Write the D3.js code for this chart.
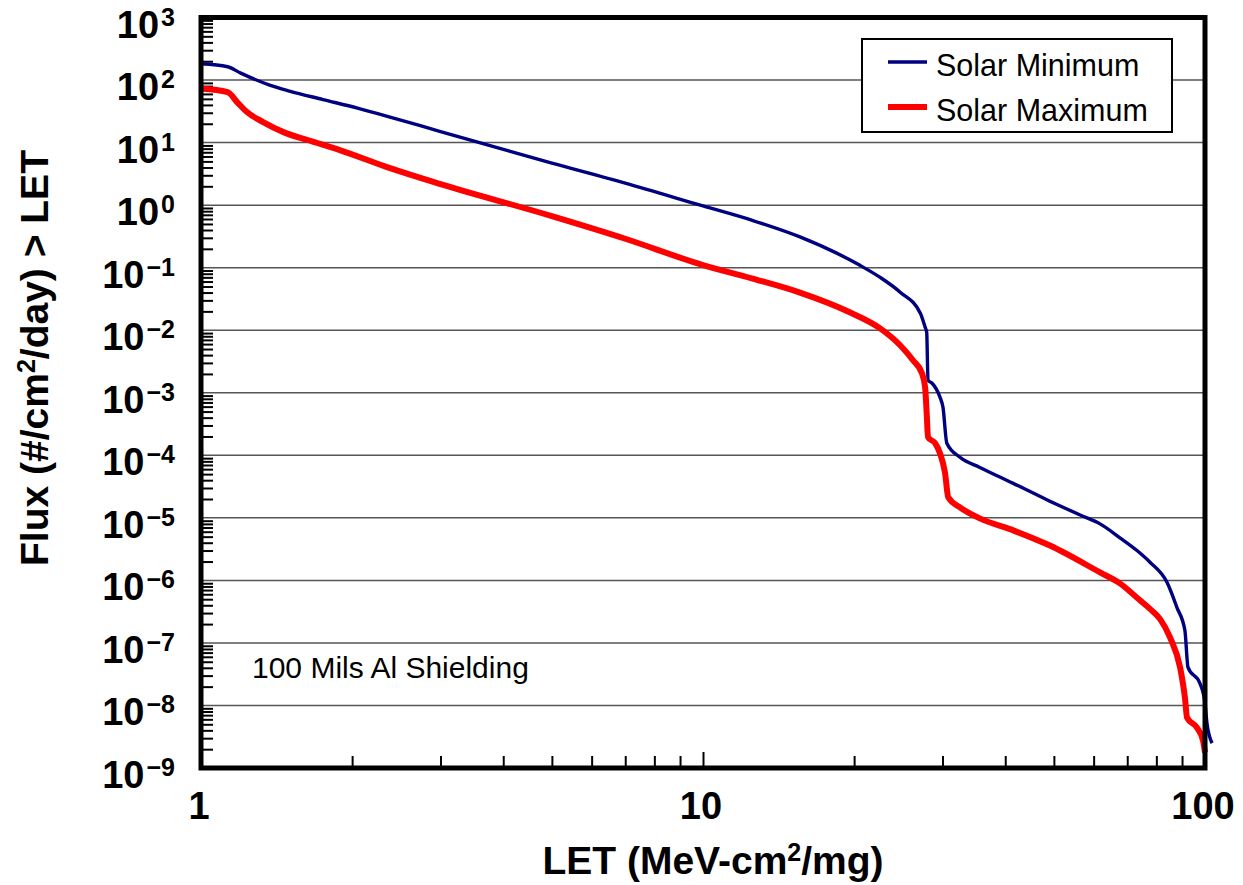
<!DOCTYPE html>
<html lang="en">
<head>
<meta charset="utf-8">
<title>LET spectrum</title>
<script type="text/javascript" src="https://cdn.jsdelivr.net/npm/d3@7/dist/d3.min.js"></script>
<style type="text/css">
  html, body { margin: 0; padding: 0; background: white; overflow: hidden; }
  text { font-family: "Liberation Sans", Arial, Helvetica, sans-serif; }
  .tick-label { font-weight: bold; fill: black; }
  .axis-title { font-weight: bold; font-size: 39px; fill: black; }
</style>
</head>
<body>
<div id="chart"></div>
<script type="text/javascript">

// LET values (MeV-cm2/mg) and integral flux
var letSolarMin = [1.0, 1.13, 1.2, 1.37, 1.5, 1.75, 2.05, 2.38, 3, 5, 7, 10, 12.5, 15.6, 20.5, 22.5, 24.7,
  27.1, 27.7, 27.9, 28.07, 28.6, 29.65, 30.06, 30.6, 32.5, 35.6, 41.5, 48.4, 56.4, 61.8, 67.7, 73.2, 77.7, 84.0,
  87.9, 91.2, 92.5, 97.7, 100, 100.9, 103.3];
var fluxSolarMin = [182, 163, 129, 83, 66.7, 48.8, 35.6, 25.6, 15, 4.7, 2.25, 0.97, 0.575, 0.31, 0.11, 0.0705, 0.0406,
  0.0187, 0.0112, 0.0093, 1.58e-3, 1.42e-3, 8.5e-4, 5.9e-4, 1.56e-4, 9.3e-5, 6.4e-5, 3.56e-5, 1.95e-5, 1.11e-5, 8.0e-6, 4.8e-6, 3.0e-6, 1.95e-6, 9.3e-7,
  3.7e-7, 1.58e-7, 4.06e-8, 2.25e-8, 1.08e-8, 5.2e-9, 2.5e-9];

var letSolarMax = [1.0, 1.13, 1.18, 1.235, 1.33, 1.46, 1.63, 1.89, 2.38, 3, 5, 7, 10, 12.5, 15.6, 19.6, 22.5,
  24.7, 26.2, 27.3, 27.7, 27.9, 28.07, 29.0, 29.65, 30.35, 30.8, 32.5, 35.6, 41.5, 49.1, 61.8, 67.7,
  74.2, 77.7, 81.4, 85.2, 89.2, 91.2, 92.1, 96.4, 99.1, 100];
var fluxSolarMax = [73, 64, 44.5, 30.8, 21.3, 14.7, 11.0, 7.6, 3.9, 2.17, 0.667, 0.29, 0.11, 0.0676, 0.04, 0.0194, 0.0108,
  5.75e-3, 3.3e-3, 2.05e-3, 1.22e-3, 4.7e-4, 1.94e-4, 1.56e-4, 1.08e-4, 5.2e-5, 2.13e-5, 1.47e-5, 9.8e-6, 6.3e-6, 3.6e-6, 1.34e-6, 8.95e-7,
  4.8e-7, 3.5e-7, 2.4e-7, 1.22e-7, 4.06e-8, 1.34e-8, 6.4e-9, 4.4e-9, 2.75e-9, 1.77e-9];

var seriesNames = ["Solar Minimum", "Solar Maximum"];
var seriesColors = ["#000080", "#ff0000"];

var xTickValues = [1, 10, 100];
var xTickLabels = ["1", "10", "100"];
var yTickExponents = [3, 2, 1, 0, -1, -2, -3, -4, -5, -6, -7, -8, -9];

var xTitle = "LET (MeV-cm";
var yTitle = "Flux (#/cm";
var noteText = "100 Mils Al Shielding";

// size of the picture and of the plot box
var w = 1243;
var h = 885;
var plotL = 201, plotR = 1205, plotT = 17.5, plotB = 768;

var xScale = d3.scaleLog()
              .domain([1, 100])
              .range([plotL, plotR]);

var yScale = d3.scaleLog()
              .domain([1e-9, 1e3])
              .range([plotB, plotT]);

var svg = d3.select("#chart")
            .append("svg")
            .attr("width", w)
            .attr("height", h);

svg.append("rect")
   .attr("width", w)
   .attr("height", h)
   .attr("fill", "white");

// horizontal grid at each decade
var gridValues = yTickExponents.filter(function(e){ return e < 3 && e > -9; })
                               .map(function(e){ return Math.pow(10, e); });
svg.selectAll("line.grid")
   .data(gridValues)
   .enter()
   .append("line")
   .attr("class", "grid")
   .attr("x1", plotL)
   .attr("x2", plotR)
   .attr("y1", function(d){ return yScale(d); })
   .attr("y2", function(d){ return yScale(d); })
   .attr("stroke", "#555")
   .attr("stroke-width", 1.5);

// minor ticks, pointing into the plot
var yMinor = [];
yTickExponents.forEach(function(e){
  if (e == 3) return;
  for (var k = 2; k <= 9; k++) yMinor.push(k * Math.pow(10, e));
});
var yAxis = d3.axisLeft(yScale)
              .tickValues(yMinor)
              .tickSize(-12)
              .tickFormat("");
svg.append("g")
   .attr("transform", "translate(" + plotL + ",0)")
   .call(yAxis)
   .call(function(g){
     g.select(".domain").remove();
     g.selectAll(".tick line").attr("stroke-width", 2);
   });

var xMinor = [];
[0, 1].forEach(function(e){
  for (var k = 2; k <= 9; k++) xMinor.push(k * Math.pow(10, e));
});
xMinor.push(10);
var xAxis = d3.axisBottom(xScale)
              .tickValues(xMinor)
              .tickSize(-12)
              .tickFormat("");
svg.append("g")
   .attr("transform", "translate(0," + plotB + ")")
   .call(xAxis)
   .call(function(g){
     g.select(".domain").remove();
     g.selectAll(".tick line")
      .attr("stroke-width", 2)
      .attr("y2", function(d){ return d == 10 ? -16 : -12; });
   });

// the two curves
var line = d3.line()
             .curve(d3.curveMonotoneX)
             .x(function(d){ return xScale(d[0]); })
             .y(function(d){ return yScale(d[1]); });

var minData = d3.zip(letSolarMin, fluxSolarMin);
var maxData = d3.zip(letSolarMax, fluxSolarMax);

svg.append("path")
   .datum(minData)
   .attr("d", line)
   .attr("fill", "none")
   .attr("stroke", seriesColors[0])
   .attr("stroke-width", 3.4)
   .attr("stroke-linejoin", "round");

svg.append("path")
   .datum(maxData)
   .attr("d", line)
   .attr("fill", "none")
   .attr("stroke", seriesColors[1])
   .attr("stroke-width", 6)
   .attr("stroke-linejoin", "round");

// frame on top
svg.append("rect")
   .attr("x", plotL)
   .attr("y", plotT)
   .attr("width", plotR - plotL)
   .attr("height", plotB - plotT)
   .attr("fill", "none")
   .attr("stroke", "black")
   .attr("stroke-width", 5);

// y tick labels: 10 with superscript exponent
var yLabels = svg.selectAll("text.ylab")
   .data(yTickExponents)
   .enter()
   .append("text")
   .attr("class", "tick-label ylab")
   .attr("x", 175)
   .attr("y", function(d){ return yScale(Math.pow(10, d)) + 20; })
   .attr("text-anchor", "end")
   .style("font-size", "38px");
yLabels.append("tspan").text("10");
yLabels.append("tspan")
   .attr("dx", 2)
   .attr("dy", -12)
   .style("font-size", "25px")
   .text(function(d){ return d < 0 ? "\u2212" + (-d) : "" + d; });

// x tick labels
svg.selectAll("text.xlab")
   .data(xTickValues)
   .enter()
   .append("text")
   .attr("class", "tick-label xlab")
   .attr("x", function(d){ return xScale(d) - 2; })
   .attr("y", 819)
   .attr("text-anchor", "middle")
   .style("font-size", "38px")
   .text(function(d, i){ return xTickLabels[i]; });

// axis titles
var xt = svg.append("text")
   .attr("class", "axis-title")
   .attr("x", 713)
   .attr("y", 874)
   .attr("text-anchor", "middle");
xt.append("tspan").text(xTitle);
xt.append("tspan").attr("dy", -13).style("font-size", "25px").text("2");
xt.append("tspan").attr("dy", 13).text("/mg)");

var yt = svg.append("text")
   .attr("class", "axis-title")
   .attr("transform", "translate(48,358) rotate(-90)")
   .attr("text-anchor", "middle");
yt.append("tspan").text(yTitle);
yt.append("tspan").attr("dy", -13).style("font-size", "25px").text("2");
yt.append("tspan").attr("dy", 13).text("/day) > LET");

// legend
svg.append("rect")
   .attr("x", 862)
   .attr("y", 39)
   .attr("width", 310)
   .attr("height", 93)
   .attr("fill", "white")
   .attr("stroke", "black")
   .attr("stroke-width", 2);

var legendRows = [62, 107];
seriesNames.forEach(function(name, i){
  svg.append("line")
     .attr("x1", 888)
     .attr("x2", 927)
     .attr("y1", legendRows[i])
     .attr("y2", legendRows[i])
     .attr("stroke", seriesColors[i])
     .attr("stroke-width", i == 0 ? 3.4 : 6);
  svg.append("text")
     .attr("x", 936)
     .attr("y", legendRows[i] + 14)
     .style("font-size", "30.5px")
     .text(name);
});

// shielding note
svg.append("text")
   .attr("x", 252)
   .attr("y", 678)
   .style("font-size", "30px")
   .text(noteText);

</script>
</body>
</html>
